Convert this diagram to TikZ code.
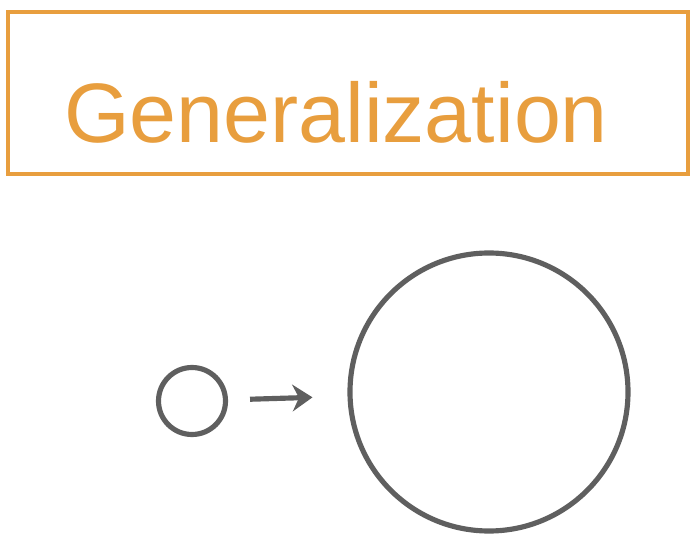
\documentclass[tikz,border=0pt]{standalone}
\usepackage{fontspec}
\setmainfont{Liberation Sans}
\usepackage{xcolor}
\usepackage{tikz}
\usetikzlibrary{arrows.meta}

\definecolor{penorange}{RGB}{232,158,62}
\definecolor{pengray}{RGB}{95,95,95}

\begin{document}
\begin{tikzpicture}[x=0.03cm,y=-0.03cm,>={Stealth[length=6mm,width=8mm]},
  framebox/.style={draw=penorange,line width=4.2pt,minimum width=680*0.03cm,minimum height=162*0.03cm,inner sep=0pt},
  titletext/.style={text=penorange,font=\fontsize{72}{72}\selectfont,inner sep=0pt},
  blob/.style={circle,draw=pengray,line width=4.4pt,inner sep=0pt}]
  \useasboundingbox (0,0) rectangle (700,544);
  \node[framebox] (frame) at (348,93) {};
  \node[titletext,anchor=base] (title) at (336,143) {Generalization};
  \node[blob,minimum size=67*0.03cm] (small) at (192,401) {};
  \node[blob,minimum size=278*0.03cm] (big) at (489,392) {};
  \draw[->,pengray,line width=4.4pt,shorten <=0.66cm,shorten >=1.05cm] (small) -- (big);
\end{tikzpicture}
\end{document}
